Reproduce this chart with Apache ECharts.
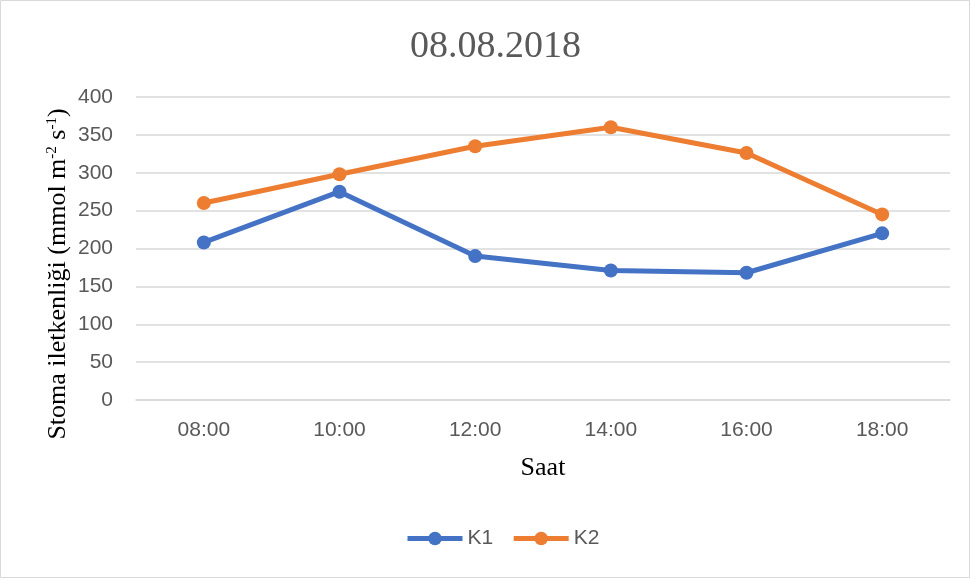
<!DOCTYPE html>
<html lang="tr">
<head>
<meta charset="UTF-8" />
<title>08.08.2018</title>
<script src="https://cdn.jsdelivr.net/npm/echarts@6/dist/echarts.min.js"></script>
<style>
  html, body { margin: 0; padding: 0; background: #fff; }
  #chart { width: 970px; height: 578px; }
</style>
</head>
<body>
<div id="chart"></div>
<script>
  // data
  const hours = ['08:00', '10:00', '12:00', '14:00', '16:00', '18:00']
  const k1 = [208, 275, 190, 171, 168, 220]
  const k2 = [260, 298, 335, 360, 326, 245]

  const chart = echarts.init(document.getElementById('chart'), null, { renderer: 'canvas' })

  const serif = '"Liberation Serif", "DejaVu Serif", serif'
  const sans = '"Liberation Sans", sans-serif'

  function lineSeries(name, data, color) {
    return {
      name: name,
      type: 'line',
      data: data,
      symbol: 'circle',
      symbolSize: 14,
      lineStyle: { width: 5, color: color },
      itemStyle: { color: color },
      emphasis: { disabled: true }
    }
  }

  chart.setOption({
    animation: false,
    title: {
      text: '08.08.2018',
      left: 405,
      top: 23,
      textStyle: { fontFamily: serif, fontSize: 38, fontWeight: 'normal', color: '#595959' }
    },
    graphic: [
      {
        type: 'rect',
        shape: { x: 0.5, y: 0.5, width: 969, height: 577 },
        style: { fill: 'none', stroke: '#d9d9d9', lineWidth: 1 },
        silent: true
      },
      {
        // y axis title, drawn by hand for the small superscripts
        type: 'text',
        x: 58,
        y: 274,
        rotation: Math.PI / 2,
        silent: true,
        style: {
          text: 'Stoma iletkenliği (mmol m{sup|-2} s{sup|-1})',
          align: 'center',
          verticalAlign: 'middle',
          fontFamily: serif,
          fontSize: 26,
          fill: '#000',
          rich: {
            sup: { fontFamily: serif, fontSize: 15, verticalAlign: 'top', fill: '#000' }
          }
        }
      }
    ],
    legend: {
      top: 523,
      left: 400,
      itemWidth: 55,
      itemHeight: 17,
      itemGap: 18,
      lineStyle: { width: 5 },
      textStyle: { fontFamily: sans, fontSize: 21, color: '#595959' },
      data: ['K1', 'K2']
    },
    grid: { left: 136, right: 20, top: 97, bottom: 178 },
    xAxis: {
      type: 'category',
      data: hours,
      boundaryGap: true,
      name: 'Saat',
      nameLocation: 'middle',
      nameGap: 55,
      nameTextStyle: { fontFamily: serif, fontSize: 26, color: '#000' },
      axisLine: { lineStyle: { color: '#d9d9d9', width: 1.5 } },
      axisTick: { show: false },
      axisLabel: { fontFamily: sans, fontSize: 21, color: '#595959', margin: 20 }
    },
    yAxis: {
      type: 'value',
      min: 0,
      max: 400,
      interval: 50,
      axisLine: { show: false },
      axisTick: { show: false },
      axisLabel: { fontFamily: sans, fontSize: 21, color: '#595959', margin: 23 },
      splitLine: { lineStyle: { color: '#d9d9d9', width: 1.5 } }
    },
    series: [
      lineSeries('K1', k1, '#4472C4'),
      lineSeries('K2', k2, '#ED7D31')
    ]
  })
</script>
</body>
</html>
